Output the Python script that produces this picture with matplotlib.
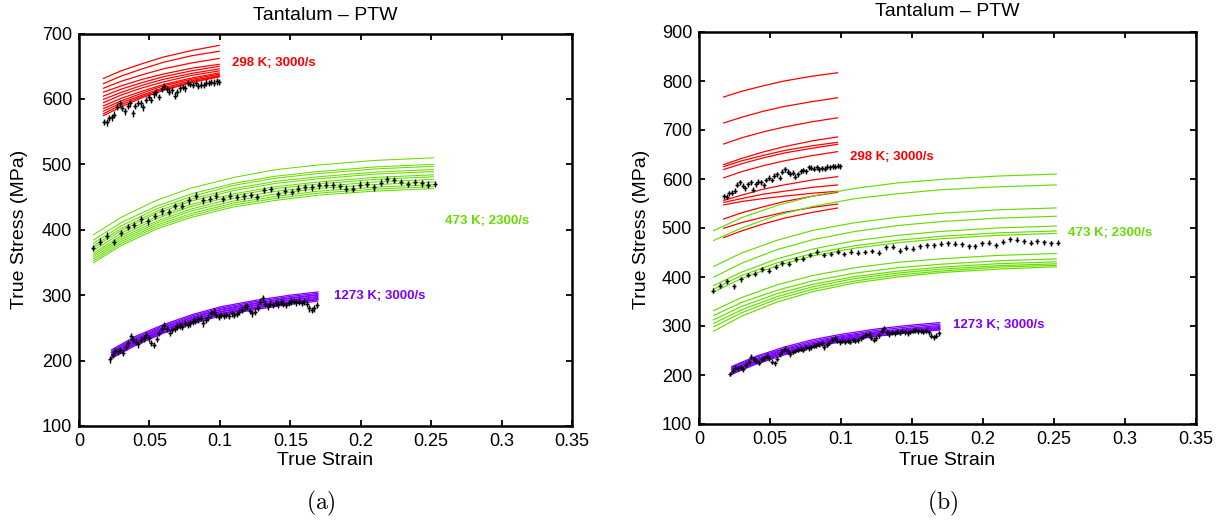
import numpy as np
import matplotlib
matplotlib.use('Agg')
import matplotlib.pyplot as plt

plt.rcParams['font.family'] = ['Liberation Sans', 'DejaVu Sans']
plt.rcParams['mathtext.fontset'] = 'cm'

# ---------------- data ----------------
xticks = [0, 0.05, 0.1, 0.15, 0.2, 0.25, 0.3, 0.35]
xtick_labels = ['0', '0.05', '0.1', '0.15', '0.2', '0.25', '0.3', '0.35']
yticks_a = [100, 200, 300, 400, 500, 600, 700]
yticks_b = [100, 200, 300, 400, 500, 600, 700, 800, 900]

title_text = 'Tantalum \u2013 PTW'
xlabel_text = 'True Strain'
ylabel_text = 'True Stress (MPa)'
label_298 = '298 K; 3000/s'
label_473 = '473 K; 2300/s'
label_1273 = '1273 K; 3000/s'

# experimental data (same in both panels)
exp298_strain = np.linspace(0.0177, 0.0996, 45)
exp298_stress = [565, 564, 571, 572, 576, 588, 593, 586, 581, 589,
                 593, 578, 589, 594, 593, 587, 598, 603, 598, 607,
                 610, 603, 615, 620, 615, 611, 613, 605, 610, 616,
                 618, 616, 624, 623, 621, 624, 620, 622, 621, 625,
                 624, 626, 625, 627, 626]
exp473_strain = np.linspace(0.0102, 0.2529, 51)
exp473_stress = [372, 382, 391, 381, 395, 404, 407, 416, 413, 421,
                 428, 427, 436, 437, 445, 452, 445, 447, 452, 447,
                 452, 450, 451, 453, 450, 461, 462, 454, 460, 458,
                 463, 465, 465, 468, 469, 468, 467, 463, 463, 469,
                 470, 465, 472, 477, 476, 473, 470, 473, 471, 469,
                 470]
exp1273_strain = np.linspace(0.022, 0.169, 81)
exp1273_stress = [202, 209, 215, 214, 216, 212, 221, 227, 237, 232,
                  229, 225, 232, 234, 239, 234, 227, 224, 233, 242,
                  249, 254, 248, 242, 247, 249, 252, 254, 252, 257,
                  255, 257, 260, 261, 263, 265, 257, 262, 266, 272,
                  275, 270, 267, 270, 268, 270, 268, 272, 270, 271,
                  275, 278, 282, 283, 276, 272, 275, 281, 290, 295,
                  287, 283, 287, 285, 288, 286, 290, 287, 285, 288,
                  290, 291, 289, 290, 288, 290, 287, 280, 277, 280,
                  285]
exp_err = 5

# model curves, panel (a)
red_a_strain = [0.017, 0.03, 0.045, 0.06, 0.08, 0.1]
red_a = [
    [631, 643, 654, 664, 674, 682],
    [623, 635, 646, 656, 666, 673],
    [616, 627, 637, 646, 655, 662],
    [610, 620, 630, 638, 647, 653],
    [604, 615, 625, 634, 643, 650],
    [599, 610, 621, 630, 639, 646],
    [594, 606, 617, 626, 636, 643],
    [589, 601, 612, 622, 632, 640],
    [585, 597, 609, 620, 630, 638],
    [581, 594, 606, 617, 628, 636],
    [577, 591, 604, 615, 626, 635],
    [574, 588, 602, 613, 625, 634],
]
green_a_strain = [0.01, 0.03, 0.055, 0.08, 0.11, 0.14, 0.17, 0.21, 0.252]
green_a = [
    [392, 419, 445, 464, 480, 492, 499, 506, 510],
    [384, 411, 436, 455, 471, 482, 489, 496, 500],
    [379, 406, 432, 451, 468, 479, 486, 493, 497],
    [375, 402, 428, 447, 463, 474, 481, 488, 492],
    [372, 399, 425, 444, 460, 471, 478, 485, 489],
    [368, 395, 420, 439, 455, 466, 473, 480, 484],
    [364, 391, 417, 436, 452, 463, 470, 477, 481],
    [361, 388, 413, 432, 448, 459, 466, 473, 477],
    [358, 385, 410, 429, 444, 455, 463, 469, 473],
    [355, 382, 407, 425, 441, 451, 459, 465, 469],
    [352, 379, 404, 422, 438, 448, 456, 462, 466],
    [349, 376, 401, 419, 435, 445, 453, 459, 463],
]
purple_a_strain = [0.0227, 0.04, 0.06, 0.08, 0.1, 0.125, 0.15, 0.17]
purple_a = [
    [216, 237, 255, 270, 282, 292, 300, 305],
    [214, 235, 253, 268, 280, 290, 298, 303],
    [212, 233, 251, 266, 278, 288, 296, 301],
    [211, 232, 250, 265, 277, 287, 295, 300],
    [209, 230, 248, 263, 275, 285, 293, 298],
    [208, 229, 247, 262, 274, 284, 292, 297],
    [207, 227, 246, 260, 272, 282, 290, 295],
    [205, 226, 244, 259, 271, 281, 289, 294],
    [204, 225, 243, 258, 270, 280, 288, 293],
    [203, 223, 242, 256, 268, 278, 286, 291],
]

# model curves, panel (b)
red_b_strain = [0.017, 0.03, 0.045, 0.06, 0.08, 0.098]
red_b = [
    [767, 779, 790, 800, 810, 817],
    [714, 726, 738, 748, 758, 766],
    [671, 684, 696, 706, 717, 725],
    [629, 642, 655, 666, 678, 686],
    [625, 637, 648, 658, 668, 675],
    [619, 631, 643, 653, 663, 671],
    [602, 615, 627, 637, 648, 656],
    [556, 567, 579, 588, 598, 605],
    [552, 560, 569, 575, 583, 588],
    [547, 554, 560, 565, 571, 575],
    [518, 531, 543, 554, 565, 573],
    [499, 511, 522, 532, 542, 549],
    [480, 494, 508, 520, 532, 541],
]
green_b_strain = [0.01, 0.03, 0.055, 0.08, 0.11, 0.14, 0.17, 0.21, 0.252]
green_b = [
    [494, 521, 546, 565, 581, 592, 599, 606, 610],
    [474, 500, 526, 544, 560, 570, 578, 584, 588],
    [421, 449, 475, 495, 511, 522, 530, 537, 541],
    [399, 428, 456, 476, 493, 505, 513, 520, 524],
    [382, 410, 437, 457, 474, 485, 493, 500, 504],
    [375, 403, 429, 448, 464, 475, 483, 490, 494],
    [369, 397, 423, 443, 459, 470, 478, 485, 489],
    [331, 358, 384, 403, 419, 430, 437, 444, 448],
    [321, 348, 373, 392, 408, 419, 426, 433, 437],
    [312, 340, 366, 385, 401, 412, 420, 427, 431],
    [305, 333, 360, 380, 397, 408, 416, 423, 427],
    [298, 327, 355, 375, 392, 404, 412, 420, 424],
    [289, 320, 349, 370, 388, 400, 409, 416, 421],
]
purple_b_strain = [0.0227, 0.04, 0.06, 0.08, 0.1, 0.125, 0.15, 0.17]
purple_b = [
    [217, 238, 257, 272, 283, 294, 302, 307],
    [215, 236, 254, 269, 280, 291, 299, 304],
    [213, 233, 252, 266, 278, 288, 296, 301],
    [211, 231, 250, 264, 276, 286, 294, 299],
    [209, 229, 248, 262, 274, 284, 292, 297],
    [207, 228, 246, 261, 273, 283, 291, 296],
    [205, 226, 245, 260, 271, 282, 290, 295],
    [203, 224, 243, 258, 269, 280, 288, 293],
    [201, 222, 241, 256, 268, 279, 287, 292],
]

# ---------------- style ----------------
RED = '#FF0000'
GREEN = '#66DD00'
PURPLE = '#7F00FF'

W, H = 1224, 521
fig = plt.figure(figsize=(W / 100, H / 100), dpi=100)

def fx(px):
    return px / W

def fy(py):
    return 1 - py / H

ax_a = fig.add_axes([fx(79), fy(426), fx(572 - 79), (426 - 33.5) / H])
ax_b = fig.add_axes([fx(699), fy(424), fx(1196 - 699), (424 - 32) / H])


def draw_curves(ax, strain, curves, color, lw):
    for c in curves:
        ax.plot(strain, c, color=color, lw=lw, solid_capstyle='butt', zorder=2)


def draw_exp(ax):
    for s, v in ((exp298_strain, exp298_stress),
                 (exp473_strain, exp473_stress),
                 (exp1273_strain, exp1273_stress)):
        ax.errorbar(s, v, yerr=exp_err, fmt='+', color='black', ms=3.5,
                    mew=1.0, elinewidth=1.0, capsize=0, zorder=5)


def style(ax, ylim, yticks):
    ax.set_xlim(0, 0.35)
    ax.set_ylim(*ylim)
    ax.set_xticks(xticks)
    ax.set_xticklabels(xtick_labels)
    ax.set_yticks(yticks)
    ax.set_yticklabels([str(t) for t in yticks])
    ax.tick_params(direction='in', length=4.5, width=1.3, top=True,
                   right=True, labelsize=13, pad=5)
    for sp in ax.spines.values():
        sp.set_linewidth(1.8)


# panel (a)
draw_curves(ax_a, red_a_strain, red_a, RED, 0.9)
draw_curves(ax_a, green_a_strain, green_a, GREEN, 0.75)
draw_curves(ax_a, purple_a_strain, purple_a, PURPLE, 0.9)
draw_exp(ax_a)
style(ax_a, (100, 700), yticks_a)
ax_a.text(0.1086, 655, label_298, color=RED, fontsize=9.5,
          fontweight='bold', ha='left', va='center')
ax_a.text(0.2598, 414, label_473, color=GREEN, fontsize=9.5,
          fontweight='bold', ha='left', va='center')
ax_a.text(0.181, 298, label_1273, color=PURPLE, fontsize=9.5,
          fontweight='bold', ha='left', va='center')

# panel (b)
draw_curves(ax_b, red_b_strain, red_b, RED, 0.9)
draw_curves(ax_b, green_b_strain, green_b, GREEN, 0.85)
draw_curves(ax_b, purple_b_strain, purple_b, PURPLE, 0.9)
draw_exp(ax_b)
style(ax_b, (100, 900), yticks_b)
ax_b.text(0.1063, 645, label_298, color=RED, fontsize=9.5,
          fontweight='bold', ha='left', va='center')
ax_b.text(0.260, 489, label_473, color=GREEN, fontsize=9.5,
          fontweight='bold', ha='left', va='center')
ax_b.text(0.179, 302, label_1273, color=PURPLE, fontsize=9.5,
          fontweight='bold', ha='left', va='center')

# titles, axis labels, panel labels
for cx, base, lx, sub in ((325.5, 20, 20, '(a)'), (947.5, 16, 641, '(b)')):
    fig.text(fx(cx), fy(base), title_text, fontsize=14, ha='center',
             va='baseline')
    fig.text(fx(cx), fy(465), xlabel_text, fontsize=14, ha='center',
             va='baseline')
    fig.text(fx(lx), fy(229), ylabel_text, fontsize=14, ha='center',
             va='center', rotation=90)
    fig.text(fx(cx - 5), fy(503), r'$\mathrm{' + sub + '}$', fontsize=17,
             ha='center', va='center')

fig.savefig('out.png', dpi=100)
